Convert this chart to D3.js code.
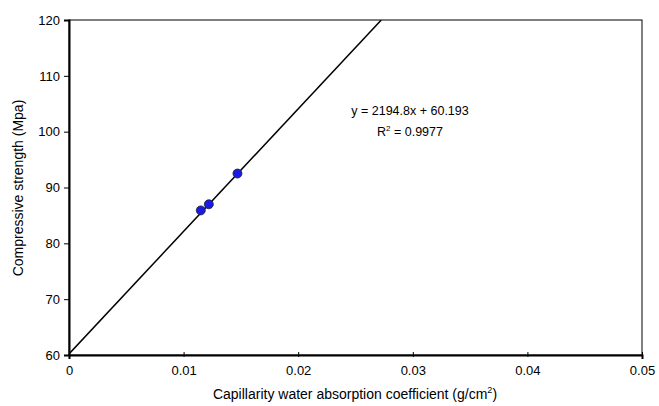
<!DOCTYPE html>
<html><head><meta charset="utf-8">
<script src="https://cdn.jsdelivr.net/npm/d3@7"></script>
<style>body{margin:0;background:#fff;} text{font-family:"Liberation Sans",Arial,sans-serif;fill:#000;}</style>
</head><body>
<svg id="c" width="659" height="406"></svg>
<script>
const xValues = [0.0115, 0.0122, 0.0147];
const yValues = [85.9, 87.0, 92.5];
const xTicks = [0, 0.01, 0.02, 0.03, 0.04, 0.05];
const xTickLabels = ["0", "0.01", "0.02", "0.03", "0.04", "0.05"];
const yTicks = [60, 70, 80, 90, 100, 110, 120];
const slope = 2194.8, intercept = 60.193;

const svg = d3.select("#c");
const m = {l: 69, r: 642, t: 20, b: 355};
const x = d3.scaleLinear().domain([0, 0.05]).range([m.l, m.r]);
const y = d3.scaleLinear().domain([60, 120]).range([m.b, m.t]);

svg.append("defs").append("clipPath").attr("id","clip")
  .append("rect").attr("x", m.l).attr("y", m.t).attr("width", m.r-m.l).attr("height", m.b-m.t);

// frame
svg.append("rect").attr("x", m.l).attr("y", m.t).attr("width", m.r-m.l).attr("height", m.b-m.t)
  .attr("fill","none").attr("stroke","#000").attr("stroke-width",1);

const xAxis = svg.append("g").attr("transform",`translate(0,${m.b})`)
  .call(d3.axisBottom(x).tickValues(xTicks).tickFormat((d,i)=>xTickLabels[i]).tickSize(4).tickPadding(7));
const yAxis = svg.append("g").attr("transform",`translate(${m.l},0)`)
  .call(d3.axisLeft(y).tickValues(yTicks).tickSize(5).tickPadding(4));
[xAxis, yAxis].forEach(g=>{
  g.select(".domain").attr("stroke","#000").attr("stroke-width",2);
  g.selectAll("text").attr("font-size","13px").attr("font-family","Liberation Sans, Arial, sans-serif");
  g.selectAll("line").attr("stroke","#000");
});
xAxis.selectAll(".tick line").attr("y1",-3).attr("y2",2);

// trend line
const x2 = (120 - intercept) / slope;
svg.append("line").attr("clip-path","url(#clip)")
  .attr("x1", x(0)).attr("y1", y(intercept)).attr("x2", x(x2)).attr("y2", y(120))
  .attr("stroke","#000").attr("stroke-width",1.5);

// points
svg.selectAll("circle.pt").data(xValues).enter().append("circle")
  .attr("cx",(d)=>x(d)).attr("cy",(d,i)=>y(yValues[i])).attr("r",4.5)
  .attr("fill","#1a1ae6").attr("stroke","#222").attr("stroke-width",0.8);

// equation
svg.append("text").attr("x", 410).attr("y", 115).attr("text-anchor","middle").attr("font-size","12.5px")
  .text("y = 2194.8x + 60.193");
const r2 = svg.append("text").attr("x", 410).attr("y", 136).attr("text-anchor","middle").attr("font-size","12.5px");
r2.append("tspan").text("R");
r2.append("tspan").attr("dy",-5).attr("font-size","8px").text("2");
r2.append("tspan").attr("dy",5).text(" = 0.9977");

// axis titles
const xt = svg.append("text").attr("x", 355).attr("y", 399).attr("text-anchor","middle").attr("font-size","14px");
xt.append("tspan").text("Capillarity water absorption coefficient (g/cm");
xt.append("tspan").attr("dy",-6).attr("font-size","9px").text("2");
xt.append("tspan").attr("dy",6).text(")");
svg.append("text").attr("transform","translate(23,188) rotate(-90)").attr("text-anchor","middle").attr("font-size","14px")
  .text("Compressive strength (Mpa)");
</script>
</body></html>
